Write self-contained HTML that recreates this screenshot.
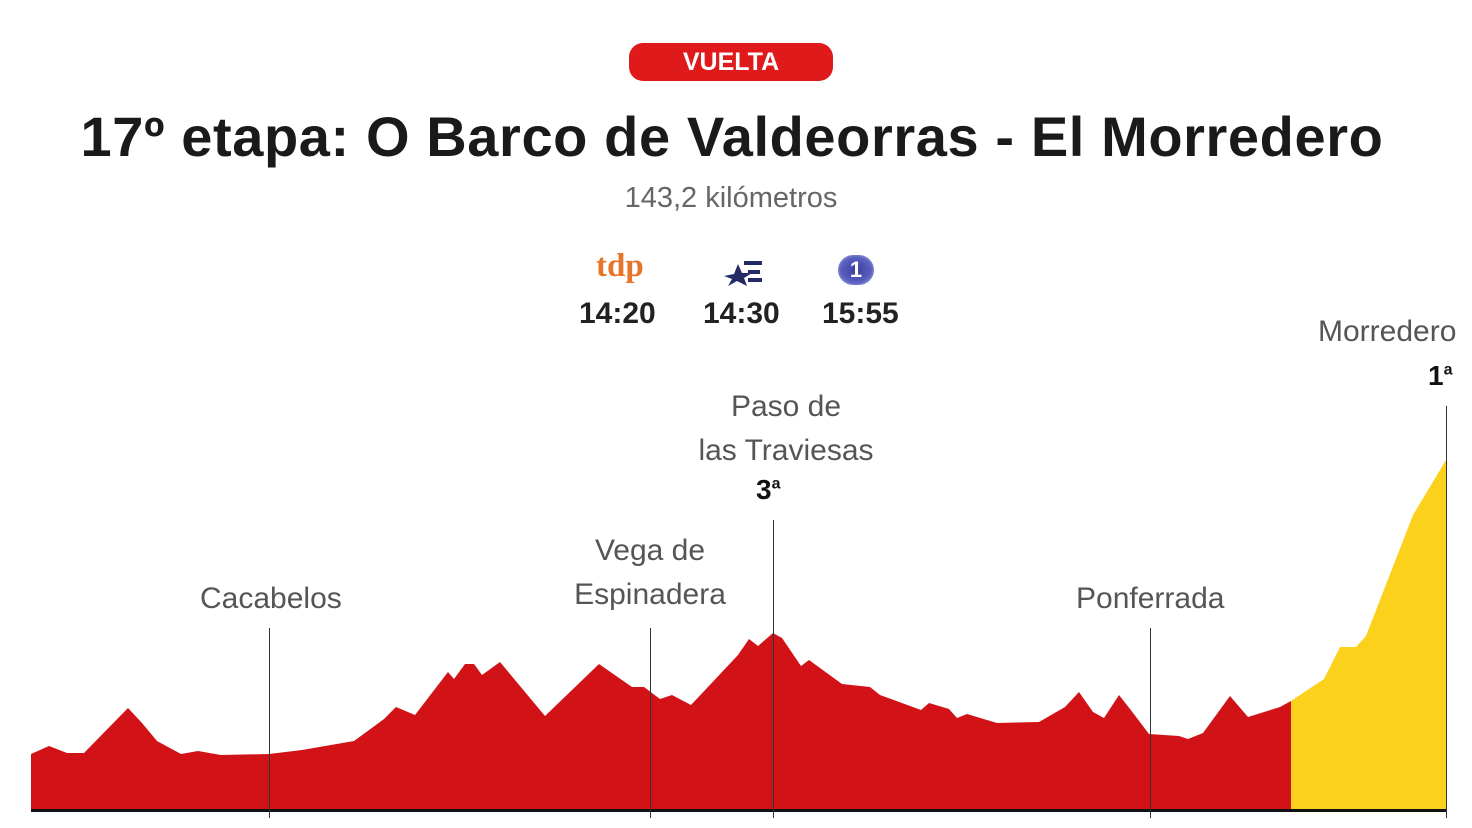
<!DOCTYPE html>
<html><head><meta charset="utf-8"><style>
body{margin:0;width:1472px;height:828px;background:#fff;overflow:hidden;font-family:"Liberation Sans",sans-serif;}
.t{position:absolute;white-space:nowrap;}
</style></head><body>
<div class="t" style="left:629px;top:43px;width:204px;height:38px;background:#e0191a;border-radius:14px;color:#fff;font-weight:bold;font-size:25px;line-height:39px;text-align:center;">VUELTA</div>
<div class="t" style="left:0;width:1464px;top:104px;text-align:center;font-size:56px;font-weight:bold;color:#1a1a1a;letter-spacing:0.6px;">17º etapa: O Barco de Valdeorras - El Morredero</div>
<div class="t" style="left:0;width:1462px;top:182px;text-align:center;font-size:29px;color:#666;">143,2 kilómetros</div>
<div class="t" style="left:596px;top:248px;font-size:33px;font-weight:bold;color:#e8732a;font-family:'Liberation Serif',serif;">tdp</div>
<svg class="t" style="left:722px;top:258px" width="44" height="28"><polygon points="2,18 12,16 16,6 20,15 30,15 22,20 25,28 15,23 6,28 10,21" fill="#232a66"/><rect x="22" y="3" width="18" height="4" fill="#232a66"/><rect x="26" y="12" width="12" height="4" fill="#232a66"/><rect x="26" y="20" width="14" height="4" fill="#232a66"/></svg>
<div class="t" style="left:838px;top:255px;width:36px;height:30px;border-radius:15px;background:radial-gradient(#3a3f9a,#5a60c0 60%,#d8dbf4);color:#fff;font-weight:bold;font-size:22px;text-align:center;line-height:30px;">1</div>
<div class="t" style="left:579px;top:297px;font-size:30px;font-weight:bold;color:#222;">14:20</div>
<div class="t" style="left:703px;top:297px;font-size:30px;font-weight:bold;color:#222;">14:30</div>
<div class="t" style="left:822px;top:297px;font-size:30px;font-weight:bold;color:#222;">15:55</div>
<svg class="t" style="left:0;top:0" width="1472" height="828">
<polygon fill="#d11317" points="31,810 31,754 49,746 67,753 84,753 128,708 142,723 157,741 181,754 198,751 221,755 269,754 302,750 354,741 384,719 396,707 415,715 448,672 454,679 465,664 474,664 482,675 500,662 545,716 599,664 632,687 644,687 660,699 672,695 691,705 738,655 749,639 758,646 773,633 782,638 801,666 809,660 842,684 870,687 880,695 921,710 929,703 949,709 957,718 967,714 997,723 1039,722 1065,707 1079,692 1093,712 1104,718 1119,695 1130,709 1149,734 1179,736 1188,739 1203,733 1230,696 1248,717 1280,707 1291,701 1291,810"/>
<polygon fill="#fbd11c" points="1291,810 1291,701 1324,679 1340,647 1356,647 1366,636 1413,515 1446,460 1446,810"/>
<rect x="31" y="809" width="1415" height="3" fill="#111"/>
<g stroke="#333" stroke-width="1">
<line x1="269.5" y1="628" x2="269.5" y2="818"/>
<line x1="650.5" y1="628" x2="650.5" y2="818"/>
<line x1="773.5" y1="520" x2="773.5" y2="818"/>
<line x1="1150.5" y1="628" x2="1150.5" y2="818"/>
<line x1="1446.5" y1="406" x2="1446.5" y2="818"/>
</g>
</svg>
<div class="t" style="left:200px;top:582px;font-size:30px;color:#555;">Cacabelos</div>
<div class="t" style="left:560px;width:180px;top:529px;font-size:30px;color:#555;text-align:center;line-height:44px;">Vega de<br>Espinadera</div>
<div class="t" style="left:696px;width:180px;top:385px;font-size:30px;color:#555;text-align:center;line-height:44px;">Paso de<br>las Traviesas</div>
<div class="t" style="left:756px;top:474px;font-size:28px;font-weight:bold;color:#111;">3<sup style="font-size:16px">a</sup></div>
<div class="t" style="left:1076px;top:582px;font-size:30px;color:#555;">Ponferrada</div>
<div class="t" style="left:1318px;top:315px;font-size:30px;color:#555;">Morredero</div>
<div class="t" style="left:1428px;top:360px;font-size:28px;font-weight:bold;color:#111;">1<sup style="font-size:16px">a</sup></div>
</body></html>
